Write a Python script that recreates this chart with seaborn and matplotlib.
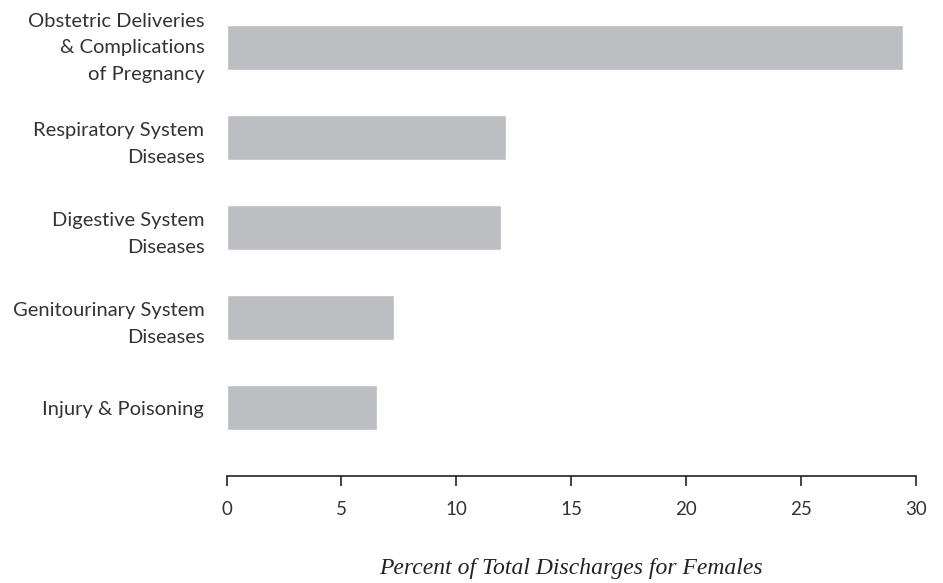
import numpy as np
import pandas as pd
import matplotlib
matplotlib.use('Agg')
import matplotlib.pyplot as plt
import seaborn as sns

# data
categories = ['Obstetric Deliveries\n& Complications\nof Pregnancy',
              'Respiratory System\nDiseases',
              'Digestive System\nDiseases',
              'Genitourinary System\nDiseases',
              'Injury & Poisoning']
percent = [29.4, 12.15, 11.95, 7.3, 6.55]
xticks = [0, 5, 10, 15, 20, 25, 30]

df = pd.DataFrame({'Category': categories, 'Percent': percent})

sns.set_theme(style='white')
plt.rcParams['font.family'] = ['Lato', 'DejaVu Sans']

fig = plt.figure(figsize=(9.43, 5.83), dpi=100)
ax = fig.add_axes([0.2402, 0.1835, 0.7315, 0.8114])

sns.barplot(data=df, x='Percent', y='Category', color='#bdbec2', saturation=1,
            width=0.5, ax=ax)

ax.set_xlim(0, 30)
ax.set_ylim(4.76, -0.5)
ax.set_xticks(xticks)
ax.set_xticklabels([str(t) for t in xticks])

for s in ['top', 'right', 'left']:
    ax.spines[s].set_visible(False)
ax.spines['bottom'].set_color('#222222')
ax.spines['bottom'].set_linewidth(1.2)

ax.tick_params(axis='x', bottom=True, length=7, width=1.2, color='#222222',
               pad=11, labelsize=13.5, labelcolor='#333333')
ax.tick_params(axis='y', left=False, pad=10, labelsize=14.5, labelcolor='#333333')
ylabels = ax.get_yticklabels()
for lbl in ylabels:
    lbl.set_linespacing(1.68)
# the three-line label sits centred on its bar
ylabels[0].set_verticalalignment('center')

ax.set_ylabel('')
ax.set_xlabel('Percent of Total Discharges for Females', fontsize=17,
              family='Liberation Serif', style='italic', color='#222222',
              labelpad=29)

fig.savefig('out.png', dpi=100)
